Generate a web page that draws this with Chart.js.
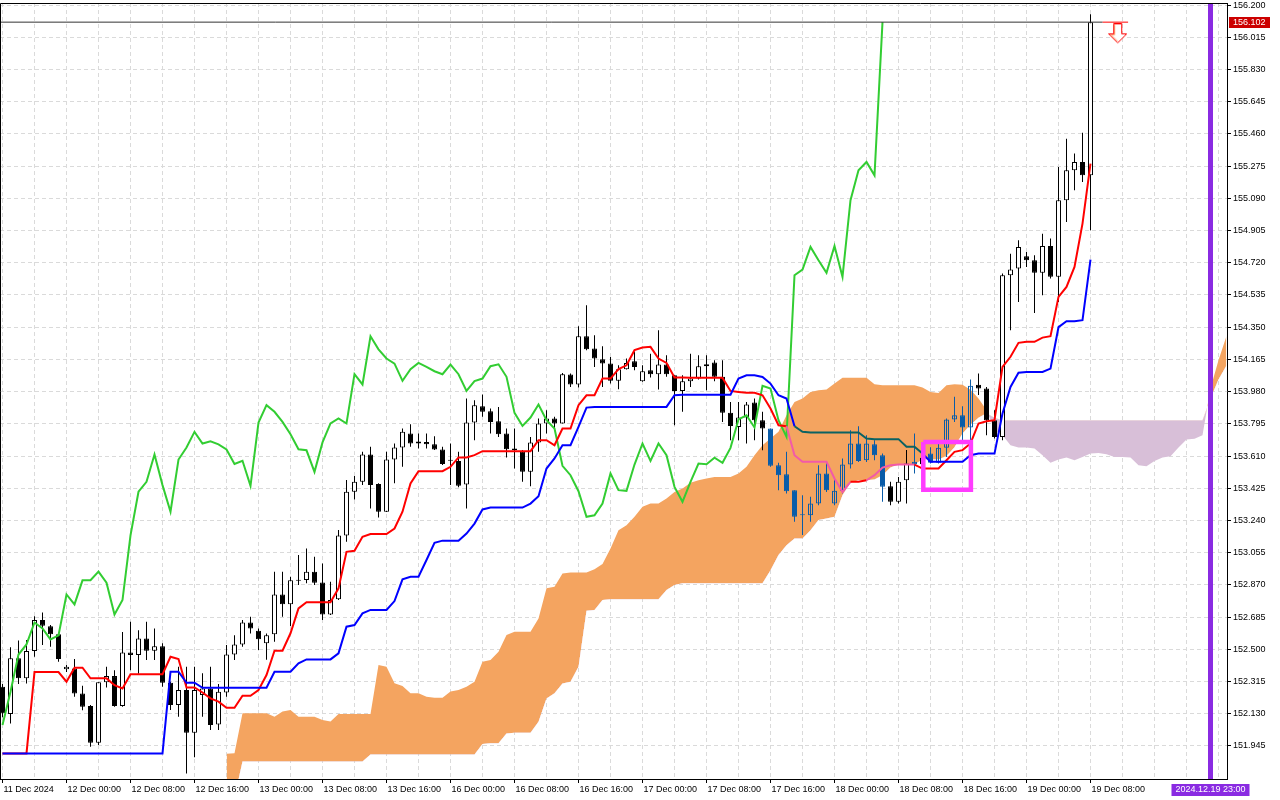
<!DOCTYPE html>
<html>
<head>
<meta charset="utf-8"/>
<title>USDJPY H1 Ichimoku</title>
<script src="https://cdn.jsdelivr.net/npm/chart.js@4.4.1/dist/chart.umd.min.js"></script>
<style>
html,body{margin:0;padding:0;background:#fff;}
canvas{display:block;}
</style>
</head>
<body>
<canvas id="chart" width="1280" height="800"></canvas>
<script>
// hourly bars, bar 0 = 11 Dec 16:00
var openP = [152.285,152.128,152.448,152.333,152.49,152.668,152.633,152.587,152.385,152.39,
 152.246,152.174,151.963,152.31,152.346,152.174,152.482,152.467,152.562,152.492,
 152.518,152.308,152.18,152.266,152.021,152.237,152.275,152.068,152.252,152.47,
 152.528,152.654,152.607,152.534,152.586,152.815,152.758,152.894,152.898,152.946,
 152.884,152.70,152.787,153.154,153.405,153.462,153.619,153.449,153.29,153.59,
 153.659,153.74,153.682,153.69,153.678,153.648,153.583,153.581,153.446,153.802,
 153.896,153.867,153.81,153.739,153.653,153.634,153.519,153.688,153.797,153.826,
 153.797,154.078,154.021,154.298,154.227,154.166,154.141,154.042,154.109,154.154,
 154.04,154.103,154.08,154.135,154.074,153.984,154.04,154.055,154.126,154.147,
 154.065,153.858,153.777,153.831,153.917,153.816,153.768,153.557,153.506,153.414,
 153.27,153.27,153.337,153.51,153.337,153.41,153.561,153.682,153.586,153.678,
 153.615,153.437,153.347,153.471,153.577,153.563,153.624,153.571,153.657,153.82,
 153.844,153.774,154.02,153.998,153.816,153.72,154.648,154.687,154.757,154.734,
 154.662,154.817,154.639,155.079,155.251,155.299,155.222];
var highP = [152.30,152.511,152.55,152.553,152.69,152.712,152.639,152.591,152.41,152.444,
 152.29,152.18,152.31,152.40,152.38,152.60,152.658,152.61,152.658,152.62,
 152.534,152.314,152.40,152.40,152.40,152.362,152.40,152.30,152.524,152.58,
 152.668,152.687,152.62,152.59,152.946,152.946,152.917,153.041,153.079,153.031,
 152.993,152.888,153.185,153.472,153.495,153.634,153.663,153.453,153.634,153.682,
 153.768,153.793,153.74,153.74,153.724,153.663,153.682,153.634,153.94,153.93,
 153.963,153.883,153.892,153.768,153.768,153.644,153.72,153.825,153.873,153.835,
 154.087,154.084,154.355,154.476,154.304,154.24,154.179,154.132,154.17,154.208,
 154.132,154.198,154.332,154.189,154.074,154.074,154.198,154.189,154.189,154.16,
 154.16,153.921,153.921,153.921,153.94,153.864,153.768,153.571,153.634,153.414,
 153.385,153.376,153.557,153.577,153.48,153.596,153.758,153.781,153.73,153.701,
 153.624,153.462,153.49,153.644,153.739,153.65,153.66,153.691,153.825,153.95,
 153.896,154.049,154.084,154.007,153.873,154.658,154.772,154.849,154.782,154.763,
 154.887,154.859,155.27,155.433,155.347,155.467,156.147];
var lowP = [152.11,152.074,152.30,152.304,152.457,152.524,152.514,152.428,152.37,152.227,
 152.15,151.94,151.95,152.28,152.17,152.17,152.38,152.36,152.438,152.438,
 152.285,152.151,152.113,151.787,151.88,152.113,152.036,152.036,152.228,152.438,
 152.514,152.59,152.496,152.44,152.544,152.687,152.634,152.869,152.879,152.869,
 152.668,152.697,152.783,153.118,153.361,153.443,153.309,153.257,153.288,153.453,
 153.548,153.663,153.653,153.653,153.644,153.558,153.443,153.43,153.309,153.701,
 153.835,153.739,153.72,153.601,153.538,153.462,153.437,153.634,153.739,153.758,
 153.797,154.007,154.003,154.218,154.122,154.007,154.026,153.994,154.107,154.103,
 154.036,154.061,153.992,154.065,153.787,153.864,154.007,154.05,153.988,154.04,
 153.806,153.701,153.701,153.682,153.701,153.643,153.548,153.414,153.395,153.232,
 153.156,153.232,153.328,153.404,153.328,153.395,153.538,153.576,153.576,153.586,
 153.347,153.328,153.337,153.337,153.51,153.54,153.567,153.567,153.605,153.806,
 153.691,153.701,153.96,153.73,153.71,153.701,154.332,154.495,154.696,154.432,
 154.533,154.629,154.495,154.954,155.136,155.184,154.907];
var closeP = [152.132,152.448,152.333,152.49,152.668,152.635,152.587,152.444,152.40,152.246,
 152.17,151.963,152.31,152.346,152.174,152.482,152.467,152.562,152.492,152.518,
 152.308,152.18,152.266,152.021,152.266,152.275,152.065,152.256,152.47,152.528,
 152.654,152.62,152.557,152.58,152.815,152.758,152.896,152.897,152.946,152.882,
 152.70,152.783,153.154,153.405,153.462,153.619,153.443,153.29,153.59,153.659,
 153.749,153.682,153.694,153.677,153.648,153.564,153.583,153.439,153.802,153.902,
 153.864,153.806,153.735,153.649,153.643,153.519,153.688,153.797,153.826,153.797,
 154.08,154.021,154.298,154.223,154.17,154.141,154.042,154.109,154.145,154.122,
 154.097,154.08,154.135,154.08,153.984,154.04,154.055,154.126,154.137,154.065,
 153.858,153.783,153.831,153.906,153.816,153.768,153.554,153.5,153.408,153.261,
 153.27,153.337,153.51,153.414,153.41,153.561,153.682,153.582,153.682,153.615,
 153.433,153.347,153.462,153.567,153.563,153.60,153.571,153.657,153.82,153.844,
 153.774,154.013,153.998,153.816,153.72,154.648,154.681,154.811,154.734,154.662,
 154.817,154.639,155.079,155.251,155.299,155.222,156.102];

// Tenkan-sen (red) and Kijun-sen (blue), bar 0..136
var tenkan = [151.902,151.902,151.902,151.902,152.369,152.369,152.369,152.369,152.314,152.394,
 152.394,152.333,152.333,152.333,152.294,152.275,152.356,152.356,152.356,152.356,
 152.356,152.457,152.444,152.281,152.281,152.252,152.218,152.199,152.164,152.164,
 152.233,152.233,152.266,152.352,152.492,152.492,152.592,152.735,152.77,152.77,
 152.77,152.77,152.85,153.06,153.066,153.146,153.162,153.162,153.162,153.194,
 153.29,153.453,153.523,153.523,153.523,153.523,153.548,153.602,153.602,153.615,
 153.638,153.638,153.638,153.638,153.638,153.638,153.638,153.701,153.701,153.672,
 153.768,153.768,153.902,153.959,153.959,154.055,154.055,154.109,154.131,154.218,
 154.233,154.237,154.17,154.145,154.061,154.061,154.059,154.059,154.059,154.059,
 154.059,153.984,153.978,153.973,153.973,153.959,153.883,153.787,153.781,153.615,
 153.577,153.577,153.577,153.577,153.481,153.404,153.462,153.462,153.471,153.5,
 153.544,153.557,153.561,153.561,153.561,153.538,153.538,153.538,153.586,153.634,
 153.644,153.682,153.797,153.81,153.816,154.122,154.18,154.26,154.266,154.266,
 154.29,154.298,154.524,154.581,154.696,154.945,155.289];
var kijun = [151.902,151.902,151.902,151.902,151.902,151.902,151.902,151.902,151.902,151.902,
 151.902,151.902,151.902,151.902,151.902,151.902,151.902,151.902,151.902,151.902,
 151.902,152.371,152.371,152.308,152.308,152.279,152.279,152.279,152.279,152.279,
 152.279,152.279,152.279,152.279,152.371,152.371,152.371,152.419,152.442,152.442,
 152.442,152.442,152.477,152.63,152.639,152.706,152.726,152.726,152.726,152.777,
 152.902,152.917,152.917,153.013,153.112,153.124,153.124,153.124,153.165,153.222,
 153.303,153.314,153.314,153.314,153.314,153.314,153.337,153.379,153.538,153.596,
 153.672,153.672,153.777,153.888,153.892,153.892,153.892,153.892,153.892,153.892,
 153.892,153.892,153.892,153.892,153.959,153.962,153.962,153.962,153.962,153.962,
 153.962,153.962,154.055,154.074,154.074,154.064,154.026,153.959,153.94,153.781,
 153.749,153.745,153.745,153.745,153.745,153.745,153.745,153.745,153.711,153.707,
 153.707,153.707,153.707,153.663,153.663,153.624,153.577,153.577,153.577,153.577,
 153.577,153.615,153.624,153.624,153.624,153.854,154.007,154.088,154.093,154.093,
 154.093,154.112,154.35,154.384,154.384,154.39,154.738];

// Senkou spans, drawn from bar 28 to bar 153 (already shifted forward)
var cloudStart = 28;
var spanA = [151.90,151.903,152.132,152.132,152.132,152.132,152.113,152.142,152.151,152.113,
 152.113,152.113,152.094,152.085,152.128,152.128,152.128,152.128,152.128,152.41,
 152.40,152.305,152.289,152.247,152.247,152.228,152.222,152.222,152.257,152.266,
 152.285,152.314,152.429,152.438,152.486,152.582,152.601,152.601,152.601,152.677,
 152.85,152.859,152.936,152.941,152.941,152.941,152.96,152.99,153.079,153.184,
 153.213,153.261,153.318,153.337,153.337,153.366,153.404,153.423,153.456,153.471,
 153.481,153.49,153.49,153.49,153.509,153.548,153.615,153.672,153.71,153.749,
 153.844,153.921,153.94,153.978,153.988,153.992,154.026,154.06,154.06,154.06,
 154.06,154.022,154.016,154.016,154.016,154.016,154.016,154.003,153.978,153.972,
 154.016,154.022,154.02,153.99,153.94,153.875,153.76,153.73,153.672,153.659,
 153.659,153.653,153.615,153.571,153.59,153.601,153.586,153.605,153.624,153.628,
 153.62,153.605,153.605,153.601,153.557,153.552,153.582,153.601,153.609,153.659,
 153.705,153.709,153.73,154.0,154.16,154.3];
var spanB = [151.60,151.65,151.855,151.855,151.855,151.855,151.855,151.855,151.855,151.855,
 151.855,151.855,151.855,151.855,151.855,151.855,151.855,151.855,151.895,151.895,
 151.895,151.895,151.895,151.895,151.895,151.895,151.895,151.895,151.895,151.895,
 151.895,151.895,151.956,151.96,151.96,152.017,152.021,152.021,152.021,152.084,
 152.218,152.247,152.304,152.314,152.40,152.721,152.725,152.783,152.788,152.788,
 152.788,152.788,152.788,152.788,152.788,152.84,152.869,152.88,152.88,152.88,
 152.88,152.88,152.88,152.88,152.88,152.88,152.88,152.88,152.954,153.041,
 153.098,153.136,153.136,153.184,153.242,153.251,153.261,153.385,153.456,153.471,
 153.471,153.475,153.5,153.544,153.561,153.561,153.561,153.59,153.59,153.59,
 153.61,153.66,153.74,153.79,153.83,153.855,153.83,153.816,153.816,153.816,
 153.816,153.816,153.816,153.816,153.816,153.816,153.816,153.816,153.816,153.816,
 153.816,153.816,153.816,153.816,153.816,153.816,153.816,153.816,153.816,153.816,
 153.816,153.816,153.816,153.94,154.05,154.13];

var chikouShift = 26;
var priceTicks = [151.945,152.130,152.315,152.500,152.685,152.870,153.055,153.240,153.425,153.610,
 153.795,153.980,154.165,154.350,154.535,154.720,154.905,155.090,155.275,155.460,
 155.645,155.830,156.015,156.200];
var timeTickBars = [0,8,16,24,32,40,48,56,64,72,80,88,96,104,112,120,128,136];
var timeTickLabels = ['11 Dec 2024','12 Dec 00:00','12 Dec 08:00','12 Dec 16:00','13 Dec 00:00',
 '13 Dec 08:00','13 Dec 16:00','16 Dec 00:00','16 Dec 08:00','16 Dec 16:00','17 Dec 00:00',
 '17 Dec 08:00','17 Dec 16:00','18 Dec 00:00','18 Dec 08:00','18 Dec 16:00','19 Dec 00:00','19 Dec 08:00'];
var lastPrice = 156.102;
var cursorBar = 151, cursorLabel = '2024.12.19 23:00';
var signalBar = 139.4, signalPrice = 156.035;
var boxBars = [115.1, 121.05], boxPrices = [153.417, 153.69];

var ORANGE = '#f4a460', THISTLE = '#d8bfd8', IN_CLOUD = '#0a5ca8';

function inOrange(i, v) {
  var k = i - cloudStart;
  if (k < 0 || k >= spanA.length) return false;
  return spanA[k] > spanB[k] && v <= spanA[k] && v >= spanB[k];
}
function candleInk(i) {
  return inOrange(i, (openP[i] + closeP[i]) / 2) ? IN_CLOUD : '#000000';
}
function candleFill(i) {
  if (closeP[i] >= openP[i]) return candleInk(i) === IN_CLOUD ? 'rgba(0,0,0,0)' : '#ffffff';
  return candleInk(i);
}
function lineSeg(arr, inColor, outColor) {
  return function(ctx) {
    var a = ctx.p0DataIndex, b = ctx.p1DataIndex;
    return inOrange(a, arr[a]) && inOrange(b, arr[b]) ? inColor : outColor;
  };
}
function pts(arr, start) {
  return arr.map(function(v, k) { return {x: start + k, y: v}; });
}

// down arrow signal
var arrowImg = document.createElement('canvas');
arrowImg.width = 19; arrowImg.height = 21;
(function() {
  var a = arrowImg.getContext('2d');
  a.beginPath();
  a.moveTo(5.5, 0.5); a.lineTo(13.5, 0.5); a.lineTo(13.5, 10.5); a.lineTo(18.5, 10.5);
  a.lineTo(9.5, 19.5); a.lineTo(0.5, 10.5); a.lineTo(5.5, 10.5); a.closePath();
  a.fillStyle = '#ffffff'; a.fill();
  a.strokeStyle = '#ff0000'; a.lineWidth = 1; a.stroke();
  a.beginPath();
  a.moveTo(6.5, 1.5); a.lineTo(6.5, 11.5); a.lineTo(3, 11.5); a.lineTo(9.5, 18);
  a.strokeStyle = '#ffb080'; a.stroke();
})();

var wicks = [], bodies = [], chikou = [];
for (var i = 0; i < openP.length; i++) {
  wicks.push({x: i, y: [lowP[i], highP[i]]});
  bodies.push({x: i, y: [openP[i], closeP[i]]});
  if (i + chikouShift < closeP.length) chikou.push({x: i, y: closeP[i + chikouShift]});
}

var yMin = 151.755, yMax = 156.212;

var decor = {
  id: 'decor',
  afterDraw: function(chart) {
    var ctx = chart.ctx, ca = chart.chartArea, xs = chart.scales.x, ys = chart.scales.y;
    ctx.save();
    ctx.strokeStyle = '#000'; ctx.lineWidth = 1;
    ctx.beginPath();
    ctx.moveTo(ca.left + 0.5, ca.bottom); ctx.lineTo(ca.left + 0.5, ca.top + 0.5); ctx.lineTo(ca.right, ca.top + 0.5);
    ctx.stroke();
    ctx.font = '9px "Liberation Sans", Arial, sans-serif';
    ctx.textBaseline = 'middle';
    var py = ys.getPixelForValue(lastPrice);
    ctx.fillStyle = '#cc0000';
    ctx.fillRect(ca.right + 2, Math.round(py) - 5, 41, 11);
    ctx.fillStyle = '#ffffff';
    ctx.textAlign = 'left';
    ctx.fillText(lastPrice.toFixed(3), ca.right + 6, Math.round(py) + 0.5);
    var px = xs.getPixelForValue(cursorBar);
    ctx.fillStyle = '#8a2be2';
    ctx.fillRect(px - 39, ca.bottom + 5, 78, 12);
    ctx.fillStyle = '#ffffff';
    ctx.textAlign = 'center';
    ctx.fillText(cursorLabel, px, ca.bottom + 11);
    ctx.restore();
  }
};

var fontFam = '"Liberation Sans", Arial, sans-serif';
Chart.defaults.font.family = fontFam;
Chart.defaults.font.size = 9;
Chart.defaults.color = '#000';

new Chart(document.getElementById('chart'), {
  type: 'line',
  data: {
    datasets: [
      { label: 'box', data: [
          {x: boxBars[0], y: boxPrices[1]}, {x: boxBars[1], y: boxPrices[1]},
          {x: boxBars[1], y: boxPrices[0]}, {x: boxBars[0], y: boxPrices[0]},
          {x: boxBars[0], y: boxPrices[1]}],
        borderColor: '#ff3cff', borderWidth: 4.5, pointRadius: 0, borderJoinStyle: 'miter', order: 1 },
      { label: 'signal', data: [{x: signalBar, y: signalPrice}], showLine: false,
        pointStyle: arrowImg, pointRadius: 10, order: 2 },
      { label: 'bid', data: [{x: -0.3125, y: lastPrice}, {x: 137.5, y: lastPrice}],
        borderColor: '#333333', borderWidth: 1, pointRadius: 0, order: 3 },
      { label: 'bid2', data: [{x: 137.5, y: lastPrice}, {x: 140.7, y: lastPrice}],
        borderColor: '#ff0000', borderWidth: 1, pointRadius: 0, order: 3 },
      { label: 'Kijun', data: pts(kijun, 0), borderColor: '#0000ff', borderWidth: 2, pointRadius: 0,
        segment: { borderColor: lineSeg(kijun, '#0b6262', '#0000ff') }, order: 4 },
      { label: 'Tenkan', data: pts(tenkan, 0), borderColor: '#ff0000', borderWidth: 2, pointRadius: 0,
        segment: { borderColor: lineSeg(tenkan, '#f25aa8', '#ff0000') }, order: 5 },
      { label: 'Chikou', data: chikou, borderColor: '#32cd32', borderWidth: 2, pointRadius: 0, order: 6 },
      { type: 'bar', label: 'body', data: bodies, grouped: false, barThickness: 5, minBarLength: 1,
        borderWidth: 1, borderSkipped: false, inflateAmount: 0,
        backgroundColor: function(c) { return candleFill(c.dataIndex); },
        borderColor: function(c) { return candleInk(c.dataIndex); }, order: 7 },
      { type: 'bar', label: 'wick', data: wicks, grouped: false, barThickness: 1, borderWidth: 0,
        inflateAmount: 0, borderSkipped: false,
        backgroundColor: function(c) { return candleInk(c.dataIndex); }, order: 8 },
      { label: 'cursor', data: [{x: cursorBar, y: 151.0}, {x: cursorBar, y: 157.0}],
        borderColor: '#8a2be2', borderWidth: 5, pointRadius: 0, order: 9 },
      { label: 'SpanA', data: pts(spanA, cloudStart), borderWidth: 0, pointRadius: 0,
        fill: { target: '+1', above: ORANGE, below: THISTLE }, order: 10 },
      { label: 'SpanB', data: pts(spanB, cloudStart), borderWidth: 0, pointRadius: 0, order: 10 }
    ]
  },
  options: {
    responsive: false,
    devicePixelRatio: 1,
    animation: false,
    events: [],
    layout: { autoPadding: false, padding: { top: 3, left: 0, right: 0, bottom: 0 } },
    elements: { line: { tension: 0 } },
    plugins: { legend: { display: false }, tooltip: { enabled: false } },
    scales: {
      x: {
        type: 'linear', min: -0.3125, max: 153.0625, offset: false,
        afterBuildTicks: function(s) {
          var t = [];
          for (var v = 0; v <= 152; v += 4) t.push({value: v});
          s.ticks = t;
        },
        afterFit: function(s) { s.height = 21; s.paddingLeft = 0; s.paddingRight = 0; },
        ticks: {
          autoSkip: false, maxRotation: 0, align: 'start', labelOffset: 1, padding: 1,
          callback: function(v) {
            var k = timeTickBars.indexOf(v);
            return k >= 0 ? timeTickLabels[k] : '';
          }
        },
        grid: {
          offset: false, color: '#dadada', lineWidth: 1, tickLength: 4, tickBorderDash: [],
          tickColor: function(c) {
            return (c.tick && timeTickBars.indexOf(c.tick.value) >= 0) ? '#000' : 'rgba(0,0,0,0)';
          }
        },
        border: { display: true, color: '#000', width: 1, dash: [4, 3] }
      },
      y: {
        position: 'right', min: yMin, max: yMax,
        afterBuildTicks: function(s) {
          s.ticks = priceTicks.map(function(v) { return {value: v}; });
        },
        afterFit: function(s) { s.width = 53; s.paddingTop = 0; s.paddingBottom = 0; },
        ticks: {
          autoSkip: false, padding: 2,
          callback: function(v) { return Number(v).toFixed(3); }
        },
        grid: { color: '#dadada', lineWidth: 1, tickLength: 4, tickColor: '#000', tickBorderDash: [] },
        border: { display: true, color: '#000', width: 1, dash: [4, 3] }
      }
    }
  },
  plugins: [decor]
});
</script>
</body>
</html>
